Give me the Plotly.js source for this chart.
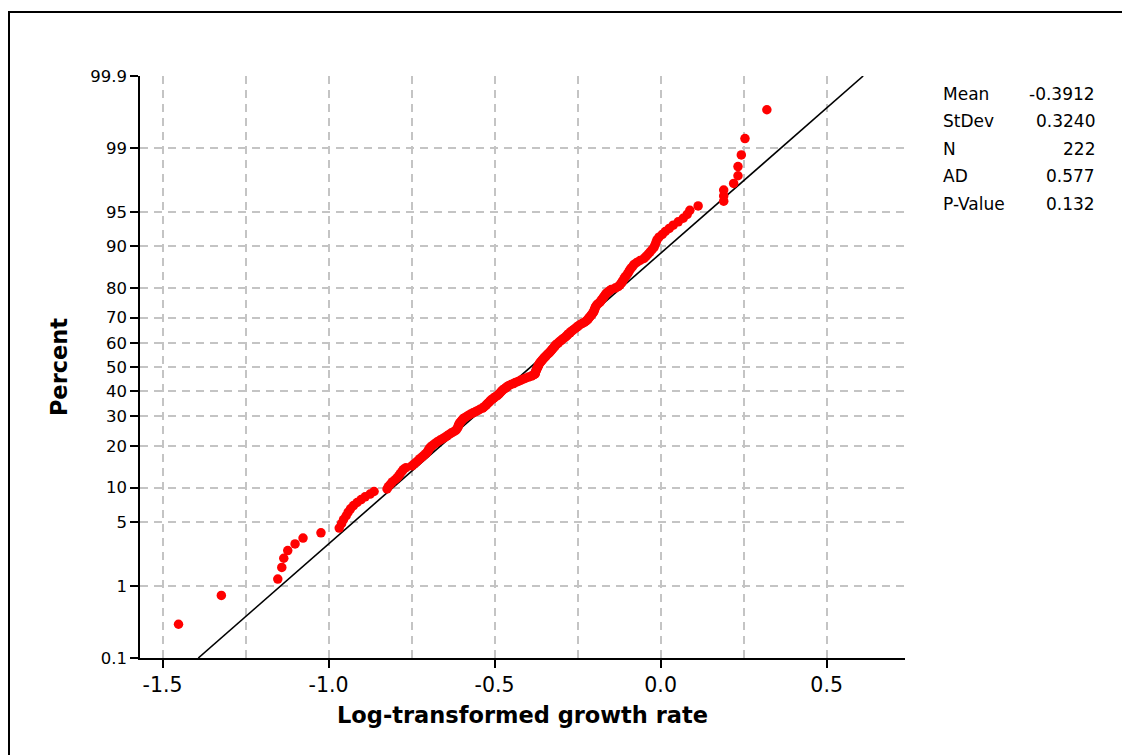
<!DOCTYPE html>
<html>
<head>
<meta charset="utf-8">
<script src="https://cdn.plot.ly/plotly-3.0.1.min.js"></script>
<style>
  html, body { margin: 0; padding: 0; background: #ffffff; overflow: hidden; }
  #plot { width: 1122px; height: 755px; }
</style>
</head>
<body>
<div id="plot"></div>
<script>
'use strict';

// sorted log-transformed growth rates
const growthRates = [
  -1.452, -1.323, -1.153, -1.141, -1.135, -1.123, -1.101, -1.077, -1.023, -0.968,
  -0.961, -0.955, -0.947, -0.941, -0.934, -0.925, -0.914, -0.902, -0.890, -0.875,
  -0.863, -0.824, -0.820, -0.814, -0.808, -0.800, -0.793, -0.788, -0.784, -0.779,
  -0.775, -0.767, -0.749, -0.742, -0.736, -0.730, -0.725, -0.719, -0.713, -0.707,
  -0.703, -0.700, -0.697, -0.694, -0.689, -0.683, -0.677, -0.671, -0.664, -0.656,
  -0.649, -0.643, -0.637, -0.631, -0.623, -0.617, -0.614, -0.611, -0.610, -0.608,
  -0.607, -0.604, -0.601, -0.598, -0.595, -0.590, -0.584, -0.578, -0.572, -0.565,
  -0.557, -0.550, -0.544, -0.536, -0.532, -0.527, -0.524, -0.521, -0.517, -0.514,
  -0.511, -0.506, -0.502, -0.497, -0.492, -0.488, -0.485, -0.482, -0.479, -0.476,
  -0.471, -0.467, -0.462, -0.458, -0.452, -0.443, -0.437, -0.429, -0.422, -0.414,
  -0.407, -0.398, -0.389, -0.383, -0.378, -0.377, -0.377, -0.375, -0.374, -0.372,
  -0.371, -0.369, -0.368, -0.366, -0.365, -0.362, -0.359, -0.357, -0.354, -0.351,
  -0.348, -0.345, -0.342, -0.338, -0.335, -0.332, -0.329, -0.327, -0.324, -0.321,
  -0.318, -0.317, -0.312, -0.308, -0.305, -0.300, -0.297, -0.293, -0.288, -0.284,
  -0.281, -0.278, -0.273, -0.270, -0.266, -0.261, -0.257, -0.252, -0.248, -0.243,
  -0.237, -0.230, -0.225, -0.221, -0.218, -0.215, -0.212, -0.209, -0.206, -0.203,
  -0.201, -0.200, -0.198, -0.197, -0.195, -0.192, -0.188, -0.183, -0.180, -0.177,
  -0.174, -0.171, -0.168, -0.165, -0.161, -0.155, -0.149, -0.137, -0.128, -0.123,
  -0.119, -0.116, -0.113, -0.110, -0.107, -0.103, -0.099, -0.096, -0.093, -0.089,
  -0.084, -0.080, -0.072, -0.062, -0.050, -0.044, -0.038, -0.032, -0.026, -0.020,
  -0.017, -0.014, -0.011, -0.005,  0.005,  0.014,  0.026,  0.038,  0.053,  0.068,
   0.080,  0.088,  0.113,  0.190,  0.190,  0.190,  0.220,  0.233,  0.233,  0.243,
   0.254,  0.320
];

const statLabels = ['Mean', 'StDev', 'N', 'AD', 'P-Value'];
const statValues = ['-0.3912', '0.3240', '222', '0.577', '0.132'];

const yTickPercents = [0.1, 1, 5, 10, 20, 30, 40, 50, 60, 70, 80, 90, 95, 99, 99.9];
const yTickLabels = ['0.1', '1', '5', '10', '20', '30', '40', '50', '60', '70', '80', '90', '95', '99', '99.9'];
const xTickVals = [-1.5, -1.0, -0.5, 0.0, 0.5];
const xTickLabels = ['-1.5', '-1.0', '-0.5', '0.0', '0.5'];
const xGridVals = [-1.5, -1.25, -1.0, -0.75, -0.5, -0.25, 0.0, 0.25, 0.5];

const FONT = "'DejaVu Sans', Verdana, sans-serif";
const GRID = '#c4c4c4';

function normInv(p) {
  // Acklam's rational approximation of the inverse normal cdf
  const a = [-3.969683028665376e+01, 2.209460984245205e+02, -2.759285104469687e+02,
             1.383577518672690e+02, -3.066479806614716e+01, 2.506628277459239e+00];
  const b = [-5.447609879822406e+01, 1.615858368580409e+02, -1.556989798598866e+02,
             6.680131188771972e+01, -1.328068155288572e+01];
  const c = [-7.784894002430293e-03, -3.223964580411365e-01, -2.400758277161838e+00,
             -2.549671010115819e+00, 4.374664141464968e+00, 2.938163982698783e+00];
  const d = [7.784695709041462e-03, 3.224671290700398e-01, 2.445134137142996e+00,
             3.754408661907416e+00];
  const plow = 0.02425;
  let q, r;
  if (p < plow) {
    q = Math.sqrt(-2 * Math.log(p));
    return (((((c[0]*q + c[1])*q + c[2])*q + c[3])*q + c[4])*q + c[5]) /
           ((((d[0]*q + d[1])*q + d[2])*q + d[3])*q + 1);
  }
  if (p > 1 - plow) {
    q = Math.sqrt(-2 * Math.log(1 - p));
    return -(((((c[0]*q + c[1])*q + c[2])*q + c[3])*q + c[4])*q + c[5]) /
            ((((d[0]*q + d[1])*q + d[2])*q + d[3])*q + 1);
  }
  q = p - 0.5;
  r = q * q;
  return (((((a[0]*r + a[1])*r + a[2])*r + a[3])*r + a[4])*r + a[5]) * q /
         (((((b[0]*r + b[1])*r + b[2])*r + b[3])*r + b[4])*r + 1);
}

// median-rank plotting positions on the normal probability scale
const n = growthRates.length;
const zScores = growthRates.map(function (v, i) {
  return normInv((i + 1 - 0.3) / (n + 0.4));
});

// fitted normal line, from the mean and stdev in the stats box
const mean = parseFloat(statValues[0]),
      sd = parseFloat(statValues[1]);
const zEnds = [normInv(0.001), normInv(0.999)];
const fitLine = {
  type: 'scatter',
  mode: 'lines',
  x: zEnds.map(z => mean + sd * z),
  y: zEnds,
  line: {color: '#000000', width: 1.6},
  hoverinfo: 'skip'
};

const points = {
  type: 'scatter',
  mode: 'markers',
  x: growthRates,
  y: zScores,
  marker: {color: '#ff0000', size: 9.5}
};

// plot area in pixels: left 140, right 905, top 76, bottom 658
const pxToPaperX = px => (px - 140) / 765;
const pxToPaperY = py => (658 - py) / 582;

var annotations = [];
statLabels.forEach(function (label, i) {
  let py = 94 + i * 27.4;
  annotations.push({
    xref: 'paper', yref: 'paper', x: pxToPaperX(941), y: pxToPaperY(py),
    xanchor: 'left', yanchor: 'middle', showarrow: false,
    text: label, font: {family: FONT, size: 17, color: '#000000'}
  });
  annotations.push({
    xref: 'paper', yref: 'paper', x: pxToPaperX(1097), y: pxToPaperY(py),
    xanchor: 'right', yanchor: 'middle', showarrow: false,
    text: statValues[i], font: {family: FONT, size: 17, color: '#000000'}
  });
});

var layout = {
  width: 1122,
  height: 755,
  paper_bgcolor: '#ffffff',
  plot_bgcolor: '#ffffff',
  showlegend: false,
  margin: {l: 140, r: 217, t: 76, b: 97},
  font: {family: FONT, color: '#000000'},
  xaxis: {
    range: [-1.568, 0.736],
    tickmode: 'array',
    tickvals: xTickVals,
    ticktext: xTickLabels,
    ticks: 'outside',
    ticklen: 8,
    tickwidth: 1.5,
    tickcolor: '#000000',
    tickfont: {family: FONT, size: 20.5},
    showline: true,
    linecolor: '#000000',
    linewidth: 1.6,
    zeroline: false,
    showgrid: true,
    gridcolor: GRID,
    gridwidth: 1.5,
    griddash: '8px,6px',
    minor: {
      tickmode: 'array',
      tickvals: xGridVals,
      ticks: '',
      showgrid: true,
      gridcolor: GRID,
      gridwidth: 1.5,
      griddash: '8px,6px'
    },
    title: {
      text: 'Log-transformed growth rate',
      font: {family: FONT, size: 22.5, weight: 'bold'},
      standoff: 11
    }
  },
  yaxis: {
    range: [-3.0903, 3.0903],
    tickmode: 'array',
    tickvals: yTickPercents.map(p => normInv(p / 100)),
    ticktext: yTickLabels,
    ticks: 'outside',
    ticklen: 8,
    tickwidth: 1.5,
    tickcolor: '#000000',
    tickfont: {family: FONT, size: 16.5},
    showline: true,
    linecolor: '#000000',
    linewidth: 1.6,
    zeroline: false,
    showgrid: true,
    gridcolor: GRID,
    gridwidth: 1.5,
    griddash: '8px,6px',
    title: {
      text: 'Percent',
      font: {family: FONT, size: 22.5, weight: 'bold'},
      standoff: 16
    }
  },
  annotations: annotations,
  shapes: [{
    type: 'rect',
    xref: 'paper', yref: 'paper',
    x0: pxToPaperX(9), x1: pxToPaperX(1160),
    y0: pxToPaperY(12), y1: pxToPaperY(790),
    line: {color: '#000000', width: 2}
  }]
};

var config = {
  responsive: false,
  displayModeBar: false
};

Plotly.newPlot('plot', [fitLine, points], layout, config);
</script>
</body>
</html>
